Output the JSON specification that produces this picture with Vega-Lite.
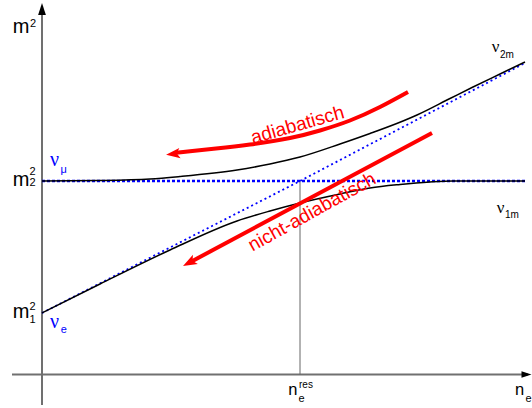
{
  "$schema": "https://vega.github.io/schema/vega-lite/v6.json",
  "width": 532,
  "height": 408,
  "padding": 0,
  "autosize": {"type": "none"},
  "background": "white",
  "config": {"view": {"stroke": null}},
  "datasets": {
    "axisV": [{"x": 0, "y": -0.305, "y2": 3.6}],
    "axisH": [{"x": -0.3, "x2": 4.86, "y": 0}],
    "arrowUp": [{"x": 0, "y": 3.655}],
    "arrowRight": [{"x": 4.845, "y": 0}],
    "res": [{"x": 2.58, "y": 0, "y2": 1.935}],
    "hline": [{"x": 0, "x2": 4.83, "y": 1.935}],
    "diag": [{"x": 0, "y": 0.615}, {"x": 2.58, "y": 1.935}, {"x": 4.83, "y": 3.115}],
    "upper": [
      {"x": 0, "y": 1.935}, {"x": 0.58, "y": 1.94}, {"x": 1.08, "y": 1.955}, {"x": 1.38, "y": 1.98},
      {"x": 1.95, "y": 2.045}, {"x": 2.28, "y": 2.105}, {"x": 2.58, "y": 2.175}, {"x": 2.98, "y": 2.305},
      {"x": 3.28, "y": 2.41}, {"x": 3.61, "y": 2.535}, {"x": 3.75, "y": 2.595}, {"x": 4.08, "y": 2.76},
      {"x": 4.3, "y": 2.87}, {"x": 4.58, "y": 3.005}, {"x": 4.83, "y": 3.125}
    ],
    "lower": [
      {"x": 0, "y": 0.615}, {"x": 0.58, "y": 0.905}, {"x": 1.28, "y": 1.245}, {"x": 1.95, "y": 1.535},
      {"x": 2.28, "y": 1.635}, {"x": 2.58, "y": 1.715}, {"x": 2.98, "y": 1.805}, {"x": 3.28, "y": 1.865},
      {"x": 3.58, "y": 1.9}, {"x": 3.88, "y": 1.925}, {"x": 4.11, "y": 1.935}, {"x": 4.83, "y": 1.935}
    ],
    "adiab": [
      {"x": 3.66, "y": 2.825}, {"x": 3.38, "y": 2.675}, {"x": 3.08, "y": 2.54}, {"x": 2.78, "y": 2.44},
      {"x": 2.48, "y": 2.365}, {"x": 2.08, "y": 2.3}, {"x": 1.74, "y": 2.26}, {"x": 1.48, "y": 2.233},
      {"x": 1.34, "y": 2.217}
    ],
    "nonadiab": [{"x": 3.9, "y": 2.415}, {"x": 1.472, "y": 1.118}],
    "headA": [{"x": 1.31, "y": 2.205}],
    "headN": [{"x": 1.472, "y": 1.118}],
    "mBig": [{"x": -0.293, "y": 3.418, "t": "m"}, {"x": -0.293, "y": 1.885, "t": "m"}, {"x": -0.293, "y": 0.562, "t": "m"}],
    "mScripts": [
      {"x": -0.12, "y": 3.475, "t": "2"}, {"x": -0.125, "y": 1.995, "t": "2"}, {"x": -0.125, "y": 1.885, "t": "2"},
      {"x": -0.125, "y": 0.645, "t": "2"}, {"x": -0.125, "y": 0.515, "t": "1"}
    ],
    "nuBlue": [{"x": 0.08, "y": 2.085, "t": "ν"}, {"x": 0.08, "y": 0.465, "t": "ν"}],
    "blueSub": [{"x": 0.185, "y": 2.015, "t": "μ"}, {"x": 0.187, "y": 0.415, "t": "e"}],
    "nuBlack": [{"x": 4.497, "y": 3.228, "t": "ν"}, {"x": 4.547, "y": 1.612, "t": "ν"}],
    "blackSub": [{"x": 4.58, "y": 3.165, "t": "2m"}, {"x": 4.63, "y": 1.562, "t": "1m"}],
    "nBig": [{"x": 2.463, "y": -0.205, "t": "n"}, {"x": 4.73, "y": -0.205, "t": "n"}],
    "nSub": [{"x": 2.565, "y": -0.272, "t": "e"}, {"x": 4.835, "y": -0.272, "t": "e"}],
    "nSup": [{"x": 2.57, "y": -0.138, "t": "res"}],
    "txtA": [{"x": 2.555, "y": 2.495, "t": "adiabatisch"}],
    "txtN": [{"x": 2.7, "y": 1.625, "t": "nicht-adiabatisch"}]
  },
  "encoding": {
    "x": {"field": "x", "type": "quantitative", "scale": {"domain": [-0.42, 4.9], "nice": false, "zero": false}, "axis": null},
    "y": {"field": "y", "type": "quantitative", "scale": {"domain": [-0.335, 3.745], "nice": false, "zero": false}, "axis": null}
  },
  "layer": [
    {"data": {"name": "axisV"}, "mark": {"type": "rule", "color": "#707070", "strokeWidth": 2}, "encoding": {"y2": {"field": "y2"}}},
    {"data": {"name": "axisH"}, "mark": {"type": "rule", "color": "#707070", "strokeWidth": 2}, "encoding": {"x2": {"field": "x2"}}},
    {"data": {"name": "arrowUp"}, "mark": {"type": "point", "shape": "M0,-1L0.65,1L-0.65,1Z", "size": 144, "filled": true, "color": "#000000", "opacity": 1}},
    {"data": {"name": "arrowRight"}, "mark": {"type": "point", "shape": "M1,0L-1,-0.65L-1,0.65Z", "size": 100, "filled": true, "color": "#000000", "opacity": 1}},
    {"data": {"name": "res"}, "mark": {"type": "rule", "color": "#666666", "strokeWidth": 1}, "encoding": {"y2": {"field": "y2"}}},
    {"data": {"name": "hline"}, "mark": {"type": "rule", "color": "#0000ff", "strokeWidth": 2.5, "strokeDash": [3, 2]}, "encoding": {"x2": {"field": "x2"}}},
    {"data": {"name": "diag"}, "mark": {"type": "line", "color": "#0000ff", "strokeWidth": 1.8, "strokeDash": [2, 3]}},
    {"data": {"name": "upper"}, "mark": {"type": "line", "color": "#000000", "strokeWidth": 1.5, "interpolate": "monotone"}},
    {"data": {"name": "lower"}, "mark": {"type": "line", "color": "#000000", "strokeWidth": 1.5, "interpolate": "monotone"}},
    {"data": {"name": "adiab"}, "mark": {"type": "line", "color": "#ff0000", "strokeWidth": 4, "interpolate": "natural"}},
    {"data": {"name": "nonadiab"}, "mark": {"type": "line", "color": "#ff0000", "strokeWidth": 4}},
    {"data": {"name": "headA"}, "mark": {"type": "point", "shape": "M-1,0L1,-0.75L0.55,0L1,0.75Z", "size": 196, "filled": true, "color": "#ff0000", "opacity": 1, "angle": 353}},
    {"data": {"name": "headN"}, "mark": {"type": "point", "shape": "M-1,0L1,-0.75L0.55,0L1,0.75Z", "size": 196, "filled": true, "color": "#ff0000", "opacity": 1, "angle": 332}},
    {"data": {"name": "txtA"}, "mark": {"type": "text", "font": "Liberation Sans", "fontSize": 19, "color": "#ff0000", "angle": 344, "align": "center", "baseline": "middle"}, "encoding": {"text": {"field": "t"}}},
    {"data": {"name": "txtN"}, "mark": {"type": "text", "font": "Liberation Sans", "fontSize": 19, "color": "#ff0000", "angle": 331, "align": "center", "baseline": "middle"}, "encoding": {"text": {"field": "t"}}},
    {"data": {"name": "mBig"}, "mark": {"type": "text", "font": "Liberation Sans", "fontSize": 20, "color": "#000000", "align": "left", "baseline": "alphabetic"}, "encoding": {"text": {"field": "t"}}},
    {"data": {"name": "mScripts"}, "mark": {"type": "text", "font": "Liberation Sans", "fontSize": 11, "color": "#000000", "align": "left", "baseline": "alphabetic"}, "encoding": {"text": {"field": "t"}}},
    {"data": {"name": "nuBlue"}, "mark": {"type": "text", "font": "Liberation Serif", "fontSize": 20, "color": "#0000ff", "align": "left", "baseline": "alphabetic"}, "encoding": {"text": {"field": "t"}}},
    {"data": {"name": "blueSub"}, "mark": {"type": "text", "font": "Liberation Sans", "fontSize": 11, "color": "#0000ff", "align": "left", "baseline": "alphabetic"}, "encoding": {"text": {"field": "t"}}},
    {"data": {"name": "nuBlack"}, "mark": {"type": "text", "font": "Liberation Serif", "fontSize": 17, "color": "#000000", "align": "left", "baseline": "alphabetic"}, "encoding": {"text": {"field": "t"}}},
    {"data": {"name": "blackSub"}, "mark": {"type": "text", "font": "Liberation Sans", "fontSize": 10, "color": "#000000", "align": "left", "baseline": "alphabetic"}, "encoding": {"text": {"field": "t"}}},
    {"data": {"name": "nBig"}, "mark": {"type": "text", "font": "Liberation Sans", "fontSize": 16.5, "color": "#000000", "align": "left", "baseline": "alphabetic"}, "encoding": {"text": {"field": "t"}}},
    {"data": {"name": "nSub"}, "mark": {"type": "text", "font": "Liberation Sans", "fontSize": 11, "color": "#000000", "align": "left", "baseline": "alphabetic"}, "encoding": {"text": {"field": "t"}}},
    {"data": {"name": "nSup"}, "mark": {"type": "text", "font": "Liberation Sans", "fontSize": 10, "color": "#000000", "align": "left", "baseline": "alphabetic"}, "encoding": {"text": {"field": "t"}}}
  ]
}
